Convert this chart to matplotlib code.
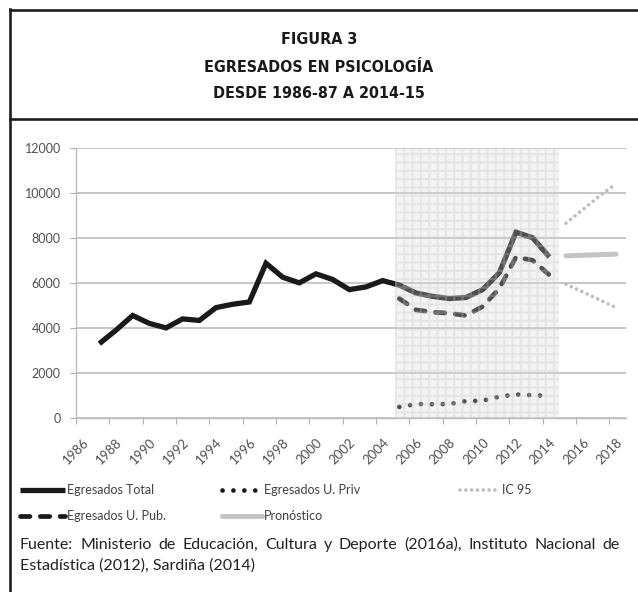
import numpy as np
import matplotlib
matplotlib.use('Agg')
import matplotlib.pyplot as plt
from matplotlib.lines import Line2D

# Datos (un punto por curso académico)
anios_total = list(range(1987, 2015))
egresados_total = [3300, 3900, 4550, 4200, 4000, 4400, 4330, 4900, 5050, 5150,
                   6870, 6250, 6000, 6400, 6150, 5700, 5820, 6100,
                   5900, 5550, 5400, 5300, 5350, 5700, 6450, 8250, 8000, 7150]

anios_sub = list(range(2005, 2015))
egresados_pub = [5300, 4800, 4700, 4650, 4550, 4950, 5750, 7150, 7000, 6350]
egresados_priv = [490, 620, 610, 620, 750, 770, 950, 1040, 1010, 990]

anios_pron = [2015, 2016, 2017, 2018]
pronostico = [7200, 7225, 7250, 7275]
ic95_sup = [8650, 9250, 9850, 10400]
ic95_inf = [5940, 5600, 5250, 4900]

ticks_x = list(range(1986, 2019, 2))
ticks_y = list(range(0, 12001, 2000))

# periodo sombreado (datos por universidad)
sombra_ini, sombra_fin = 2005.16, 2015.0
DESPLAZ = 0.4  # los puntos caen entre las marcas de los años

fuente_ejes = ['Lato', 'DejaVu Sans']

fig = plt.figure(figsize=(6.38, 5.92), dpi=100)

# === Marco y título ===
marco = '#1e1e1e'
fig.add_artist(Line2D([9.5 / 638, 9.5 / 638], [0, 1 - 9 / 592], transform=fig.transFigure, color=marco, lw=1.9))
fig.add_artist(Line2D([9.5 / 638, 1], [1 - 9.5 / 592, 1 - 9.5 / 592], transform=fig.transFigure, color=marco, lw=1.9))
fig.add_artist(Line2D([9.5 / 638, 1], [1 - 119 / 592, 1 - 119 / 592], transform=fig.transFigure, color=marco, lw=1.9))

for texto, y in [("FIGURA 3", 40), ("EGRESADOS EN PSICOLOGÍA", 67), ("DESDE 1986-87 A 2014-15", 94)]:
    fig.text(0.5, 1 - y / 592, texto, ha='center', va='center', fontsize=11.5,
             fontweight='bold', family='DejaVu Sans', fontstretch='condensed', color='#1a1a1a')

# === Gráfico ===
ax = fig.add_axes([76 / 638, 1 - 418 / 592, 550 / 638, 270.3 / 592])

x_total = np.array(anios_total) + DESPLAZ
x_sub = np.array(anios_sub) + DESPLAZ
x_pron = np.array(anios_pron) + DESPLAZ

l_total, = ax.plot(x_total, egresados_total, color='#1a1a1a', lw=3.8,
                   solid_joinstyle='miter', solid_capstyle='butt', zorder=3, label='Egresados Total')
l_pub, = ax.plot(x_sub, egresados_pub, color='#1a1a1a', lw=3.4, linestyle=(0, (2.0, 2.2)),
                 dash_capstyle='round', zorder=3, label='Egresados U. Pub.')
l_priv, = ax.plot(x_sub, egresados_priv, color='#1a1a1a', lw=3.4, linestyle=(0, (0.01, 2.3)),
                  dash_capstyle='round', zorder=3, label='Egresados U. Priv')
l_pron, = ax.plot(x_pron, pronostico, color='#c4c4c4', lw=3.6, solid_capstyle='round',
                  zorder=3, label='Pronóstico')
l_ic, = ax.plot(x_pron, ic95_sup, color='#bdbdbd', lw=2.6, linestyle=(0, (0.01, 1.6)),
                dash_capstyle='round', zorder=3, label='IC 95')
ax.plot(x_pron, ic95_inf, color='#bdbdbd', lw=2.6, linestyle=(0, (0.01, 1.6)),
        dash_capstyle='round', zorder=3)

plt.rcParams['hatch.linewidth'] = 1.6
ax.axvspan(sombra_ini, sombra_fin, facecolor=(0.86, 0.86, 0.86, 0.28), edgecolor=(0.78, 0.78, 0.78, 0.3),
           hatch='++', lw=0, zorder=4)

ax.set_xlim(1986, 2019)
ax.set_ylim(0, 12000)
ax.set_xticks(ticks_x)
ax.set_yticks(ticks_y)
ax.set_xticklabels([str(a) for a in ticks_x], rotation=45, ha='center', family=fuente_ejes,
                   fontsize=9.5, color='#505050')
ax.set_yticklabels([str(v) for v in ticks_y], family=fuente_ejes, fontsize=9, color='#505050')
ax.tick_params(axis='x', length=4, color='#b0b0b0', pad=9)
ax.tick_params(axis='y', length=4, color='#b0b0b0', pad=7)
ax.yaxis.grid(True, color='#bdbdbd', lw=1.2)
ax.set_axisbelow(True)
for lado in ['top', 'right']:
    ax.spines[lado].set_visible(False)
for lado in ['left', 'bottom']:
    ax.spines[lado].set_color('#bdbdbd')
    ax.spines[lado].set_linewidth(1.0)

# === Leyenda (tres columnas colocadas a mano) ===
columnas = [(20, [l_total, l_pub], 3.6), (222, [l_priv, l_pron], 3.2), (460, [l_ic], 3.2)]
for x0, hs, largo in columnas:
    leg = fig.legend(hs, [h.get_label() for h in hs], loc='upper left',
                     bbox_to_anchor=(x0 / 638, 1 - 484 / 592), frameon=False,
                     handlelength=largo, handletextpad=0.15, labelspacing=1.15,
                     borderpad=0, borderaxespad=0, prop={'family': fuente_ejes, 'size': 9})
    for t in leg.get_texts():
        t.set_color('#404040')

# === Fuente (primera línea justificada) ===
linea1 = "Fuente: Ministerio de Educación, Cultura y Deporte (2016a), Instituto Nacional de"
linea2 = "Estadística (2012), Sardiña (2014)"
x_izq, x_der = 20 / 638, 620 / 638
estilo = dict(ha='left', va='center', fontsize=11.5, family=fuente_ejes, color='#222222')

renderer = fig.canvas.get_renderer()
palabras = linea1.split()
textos = [fig.text(0, 1 - 545 / 592, p, **estilo) for p in palabras]
anchos = [t.get_window_extent(renderer).width / fig.bbox.width for t in textos]
hueco = (x_der - x_izq - sum(anchos)) / (len(palabras) - 1)
x = x_izq
for t, w in zip(textos, anchos):
    t.set_x(x)
    x += w + hueco
fig.text(x_izq, 1 - 566 / 592, linea2, **estilo)

fig.savefig('out.png', dpi=100)
